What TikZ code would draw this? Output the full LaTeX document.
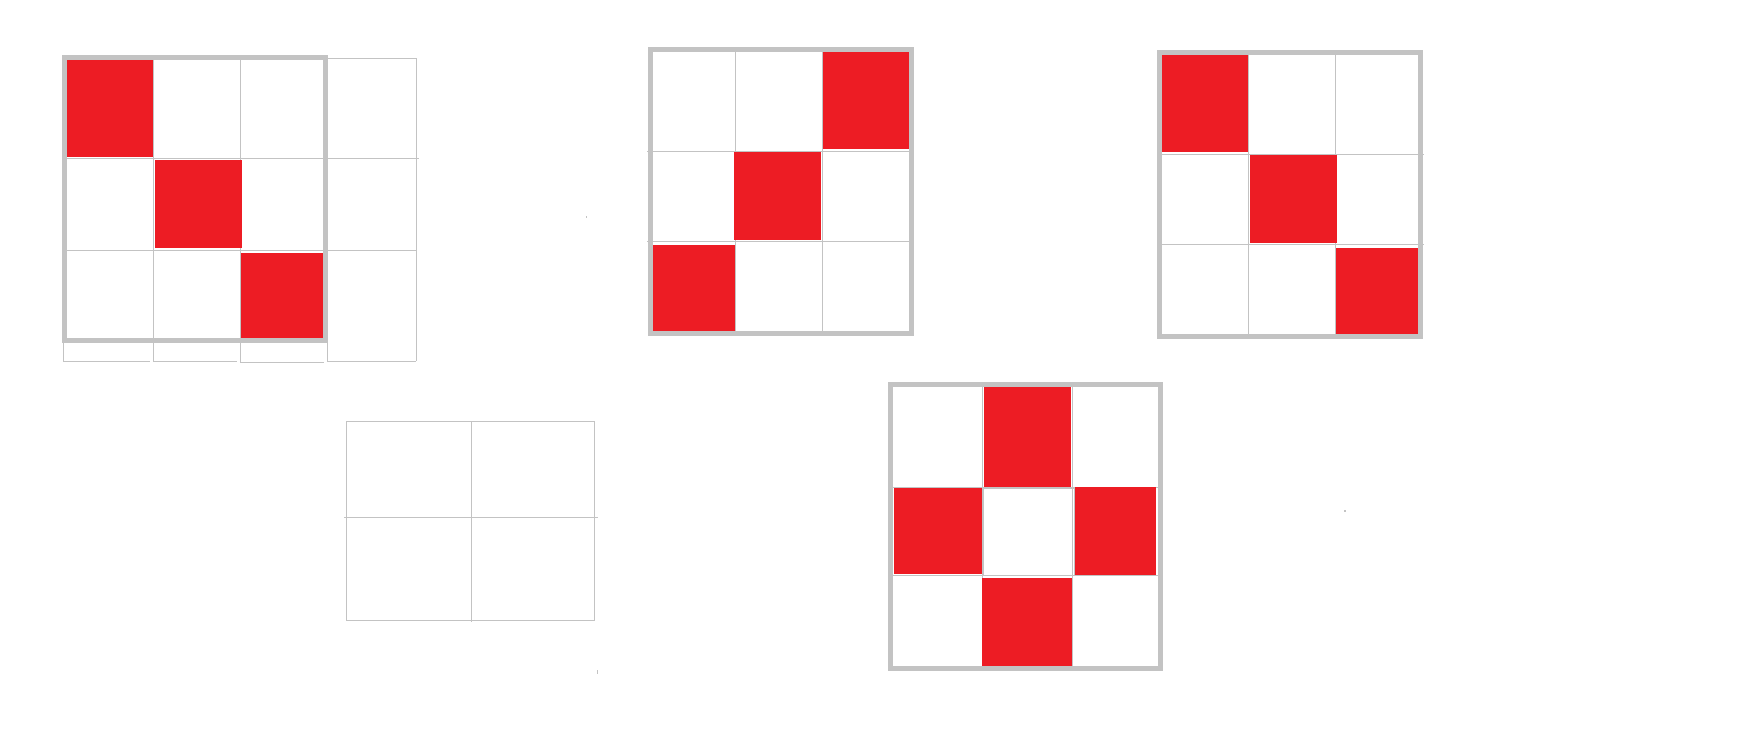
\documentclass[tikz,border=0pt]{standalone}
\definecolor{cellred}{HTML}{ED1C24}
\definecolor{gridgray}{HTML}{C3C3C3}
\tikzset{
  thinline/.style={draw=gridgray, line width=0.75pt},
  frameline/.style={draw=gridgray, line width=3.6pt},
  redcell/.style={fill=cellred},
  speck/.style={fill=gridgray}
}
\begin{document}
\begin{tikzpicture}[x=0.75pt,y=-0.75pt]
\useasboundingbox[fill=white] (0,0) rectangle (1756,738);

% ---------- Grid 1 (top left) ----------
\draw[thinline] (153.3,58) -- (153.3,362);
\draw[thinline] (240.3,58) -- (240.3,362.3);
\draw[thinline] (327.3,58.3) -- (327.3,361.3);
\draw[thinline] (416.3,58.3) -- (416.3,361.3);
\draw[thinline] (63.3,340) -- (63.3,361.3);
\draw[thinline] (64,159) -- (418.7,159);
\draw[thinline] (64,250) -- (416.3,250);
\draw[thinline] (327.3,58.3) -- (416.3,58.3);
\draw[thinline] (63.3,361.3) -- (150,361.3);
\draw[thinline] (153.3,361.3) -- (236.7,361.3);
\draw[thinline] (240.3,362.3) -- (323.7,362.3);
\draw[thinline] (327.3,361.3) -- (416.3,361.3);
\fill[redcell] (67,60) rectangle (153,157);
\fill[redcell] (155,160) rectangle (242,248);
\fill[redcell] (241,253) rectangle (323,338.7);
\draw[frameline] (64.5,57.5) rectangle (325.2,340.5);

% ---------- Grid 2 (top middle) ----------
\draw[thinline] (735.3,49) -- (735.3,333);
\draw[thinline] (822.3,49) -- (822.3,333);
\draw[thinline] (647,151.3) -- (912,151.3);
\draw[thinline] (647,241.3) -- (912,241.3);
\fill[redcell] (823,52) rectangle (909,149);
\fill[redcell] (734,152) rectangle (821,240);
\fill[redcell] (653,245) rectangle (735,330.7);
\draw[frameline] (650.3,49.3) rectangle (911.3,333.3);

% ---------- Grid 3 (top right) ----------
\draw[thinline] (1248.3,52) -- (1248.3,336);
\draw[thinline] (1335.3,52) -- (1335.3,336);
\draw[thinline] (1159,154.3) -- (1423.7,154.3);
\draw[thinline] (1159,244.7) -- (1423.7,244.7);
\fill[redcell] (1162,55) rectangle (1248,152);
\fill[redcell] (1249.7,155) rectangle (1337,243);
\fill[redcell] (1336,247.7) rectangle (1418,334);
\draw[frameline] (1159.3,52.3) rectangle (1420.7,336.3);

% ---------- Grid 4 (2x2, bottom left) ----------
\draw[thinline] (346.3,421.3) rectangle (594.3,620);
\draw[thinline] (471.3,421.3) -- (471.3,621.7);
\draw[thinline] (344,517.3) -- (597.7,517.3);
\draw[thinline] (597,670) -- (597,674);

% ---------- Grid 5 (bottom middle) ----------
\draw[thinline] (982.7,384) -- (982.7,668);
\draw[thinline] (1072,384) -- (1072,668);
\draw[thinline] (890,487) -- (1163,487);
\draw[thinline] (890,575.7) -- (1163,575.7);
\fill[redcell] (984,386) rectangle (1071,487);
\fill[redcell] (894,488) rectangle (981.7,574);
\fill[redcell] (1075,487) rectangle (1156.3,575);
\fill[redcell] (982,578) rectangle (1072,666.7);
\draw[thinline] (983.5,488.5) rectangle (1074,575);
\draw[frameline] (890.3,384.3) rectangle (1160.7,668.3);

% ---------- stray specks ----------
\fill[speck] (585.5,216) rectangle (586.5,218);
\fill[speck] (1344,510) rectangle (1346,512);
\end{tikzpicture}
\end{document}
